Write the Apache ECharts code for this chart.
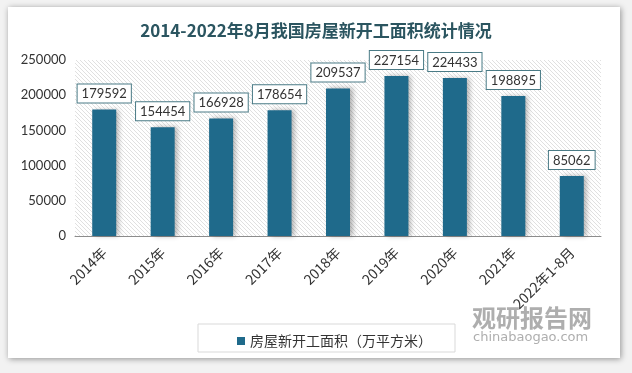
<!DOCTYPE html>
<html><head><meta charset="utf-8">
<script src="https://cdn.jsdelivr.net/npm/echarts@6/dist/echarts.min.js"></script>
<style>html,body{margin:0;padding:0;background:#f4f4f4}#c{width:632px;height:373px}</style>
</head><body><div id="c"></div>
<script>
const categories = ['2014年','2015年','2016年','2017年','2018年','2019年','2020年','2021年','2022年1-8月'];
const values = [179592,154454,166928,178654,209537,227154,224433,198895,85062];
const yTicks = [0,50000,100000,150000,200000,250000];
const titleText = '2014-2022年8月我国房屋新开工面积统计情况';
const seriesName = '房屋新开工面积（万平方米）';

const pc = document.createElement('canvas');
pc.width = 4; pc.height = 4;
const g = pc.getContext('2d');
g.fillStyle = '#ffffff'; g.fillRect(0,0,4,4);
g.strokeStyle = '#e0e0e0'; g.lineWidth = 1;
g.beginPath(); g.moveTo(-1,-1); g.lineTo(5,5); g.stroke();
g.beginPath(); g.moveTo(-1,3); g.lineTo(1,5); g.stroke();
g.beginPath(); g.moveTo(3,-1); g.lineTo(5,1); g.stroke();

const chart = echarts.init(document.getElementById('c'), null, {renderer:'canvas'});
chart.setOption({
  backgroundColor: '#f2f2f2',
  animation: false,
  graphic: [
    {type:'rect', shape:{x:8,y:7,width:612,height:351}, style:{fill:'#ffffff', shadowBlur:6, shadowColor:'rgba(0,0,0,0.4)', shadowOffsetX:1, shadowOffsetY:1}, z:-10, silent:true},
    {type:'rect', shape:{x:198,y:324,width:257,height:28}, style:{fill:'#ffffff', stroke:'#d9d9d9', lineWidth:1}, z:-5, silent:true},
    {type:'text', left:472, top:306, style:{text:'观研报告网', font:'bold 24px "Noto Sans CJK SC"', fill:'#a0a0a0', opacity:0.85}, z:5, silent:true},
    {type:'text', left:473, top:331, style:{text:'chinabaogao.com', font:'13px "DejaVu Sans"', fill:'#a0a0a0', opacity:0.85}, z:5, silent:true}
  ],
  title: {
    text: titleText, left: 'center', top: 17,
    textStyle: {fontFamily:'"Noto Sans CJK SC"', fontWeight:'bold', fontSize:17, color:'#2b5560'}
  },
  legend: {
    data:[seriesName], left: 232, top: 329, itemWidth:8, itemHeight:8, icon:'rect', itemGap:6,
    textStyle:{fontFamily:'"Noto Sans CJK SC"', fontSize:14, color:'#333'}
  },
  grid: {left:75, right:31, top:60, bottom:137, show:true, borderWidth:0,
    backgroundColor: {image: pc, repeat:'repeat'}},
  xAxis: {
    type:'category', data: categories,
    axisLine:{show:true, lineStyle:{color:'#8c8c8c', width:1}},
    axisTick:{show:false},
    axisLabel:{rotate:45, interval:0, margin:14, fontFamily:'"Noto Sans CJK SC"', fontSize:14, color:'#333'}
  },
  yAxis: {
    type:'value', min:yTicks[0], max:yTicks[yTicks.length-1], interval:50000,
    axisLine:{show:false}, axisTick:{show:false}, splitLine:{show:false},
    axisLabel:{margin:9, fontFamily:'Lato', fontSize:13, color:'#333', formatter: v => String(v)}
  },
  series: [{
    name: seriesName, type:'bar', data: values, barWidth: 24,
    itemStyle:{color:'#1f6a8b', shadowBlur:5, shadowColor:'rgba(0,0,0,0.3)', shadowOffsetX:3, shadowOffsetY:0},
    label:{show:true, position:'top', distance:7, fontFamily:'Lato', fontSize:13, color:'#333',
      backgroundColor:'#ffffff', borderColor:'#4a7b86', borderWidth:1, padding:[3,4,2,4]}
  }]
});
</script></body></html>
